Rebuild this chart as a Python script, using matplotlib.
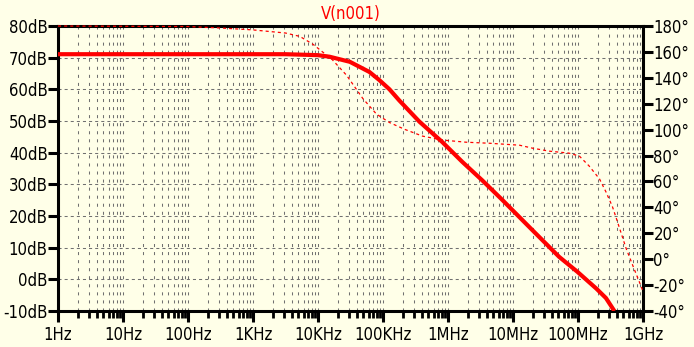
import matplotlib
matplotlib.use('Agg')
import matplotlib.pyplot as plt
from matplotlib.ticker import FixedLocator, LogLocator, NullFormatter

# AC sweep of V(n001): magnitude (dB) and phase (deg)
gain_freq = [1, 1e3, 3.16e3, 10e3, 15.1e3, 30.9e3, 61.7e3, 87e3, 126e3, 178e3,
             363e3, 813e3, 1.66e6, 3.39e6, 6.61e6, 19.1e6, 51.3e6, 97.7e6,
             191e6, 269e6, 363e6]
gain_db = [71.1, 71.1, 71.1, 70.8, 70.3, 68.7, 65.5, 63.0, 60.0, 56.5,
           49.8, 43.4, 37.1, 31.2, 25.4, 15.9, 7.1, 2.4,
           -2.9, -5.9, -10.0]

phase_freq = [1, 100, 316, 1e3, 3.16e3, 5.25e3, 8.32e3, 16.6e3, 27.5e3, 49e3,
              79.4e3, 126e3, 214e3, 407e3, 813e3, 1.91e6, 4.37e6, 12.6e6,
              20e6, 36.3e6, 72.4e6, 105e6, 148e6, 214e6, 269e6, 339e6,
              398e6, 550e6, 724e6, 933e6, 1e9]
phase_deg = [180, 179.6, 178.5, 177, 174.6, 172, 166, 154, 142, 124,
             112, 105.5, 100.3, 95, 92, 90.3, 89.5, 88,
             85.7, 83.4, 81.9, 79.6, 72, 62, 52, 40.5,
             30, 8.3, -7, -20.8, -25]

db_ticks = [-10, 0, 10, 20, 30, 40, 50, 60, 70, 80]
deg_ticks = [-40, -20, 0, 20, 40, 60, 80, 100, 120, 140, 160, 180]
freq_ticks = [1, 10, 100, 1e3, 10e3, 100e3, 1e6, 10e6, 100e6, 1e9]
freq_labels = ['1Hz', '10Hz', '100Hz', '1KHz', '10KHz', '100KHz',
               '1MHz', '10MHz', '100MHz', '1GHz']

BG = '#ffffe8'
plt.rcParams['font.family'] = ['DejaVu Sans']
plt.rcParams['font.stretch'] = 'condensed'
plt.rcParams['font.size'] = 12
plt.rcParams['lines.scale_dashes'] = False

fig = plt.figure(figsize=(6.94, 3.47), dpi=100, facecolor=BG)
ax = fig.add_axes([0.0836, 0.1037, 0.8429, 0.8213])
ax2 = ax.twinx()
# phase axes on top (carries the frame), magnitude trace drawn in it too
ax2.set_zorder(ax.get_zorder() + 1)
ax2.patch.set_visible(False)
ax.set_facecolor(BG)
for spine in ax.spines.values():
    spine.set_visible(False)

ax.set_xscale('log')
ax.set_xlim(1, 1e9)
ax.set_ylim(-10, 80)
ax2.set_ylim(-40, 180)

# grid: vertical lines at every decade sub-division, horizontal every 10dB
ax.xaxis.set_major_locator(FixedLocator(freq_ticks))
ax.xaxis.set_minor_locator(LogLocator(base=10, subs=range(2, 10), numticks=20))
ax.xaxis.set_minor_formatter(NullFormatter())
ax.set_xticklabels(freq_labels)
ax.grid(True, which='both', axis='x', color='#707070', linewidth=0.75,
        dashes=(2.2, 3.6))
ax.grid(True, which='major', axis='y', color='#707070', linewidth=0.75,
        dashes=(2.2, 2.2))

ax.yaxis.set_major_locator(FixedLocator(db_ticks))
ax.set_yticklabels([f'{v}dB' for v in db_ticks])
ax2.yaxis.set_major_locator(FixedLocator(deg_ticks))
ax2.set_yticklabels([f'{v}°' for v in deg_ticks])

ax.tick_params(axis='y', which='major', length=7, width=2.2, pad=0.5)
ax.tick_params(axis='x', which='major', length=8, width=2.2, pad=3)
ax.tick_params(axis='x', which='minor', length=5, width=2.0)
ax2.tick_params(axis='y', which='major', length=7, width=2.2, pad=0.5)

for spine in ax2.spines.values():
    spine.set_linewidth(2.2)

ax2.plot(phase_freq, phase_deg, color='red', linewidth=0.9, dashes=(2.2, 2.2),
         zorder=3, clip_on=False)
# magnitude trace uses the dB axes' transform but sits above the frame
ax2.plot(gain_freq, gain_db, color='red', linewidth=3.0, solid_capstyle='butt',
         transform=ax.transData, zorder=4)

fig.text(0.505, 0.961, 'V(n001)', color='red', ha='center', va='center', fontsize=12)

fig.savefig('out.png', dpi=100, facecolor=BG)
